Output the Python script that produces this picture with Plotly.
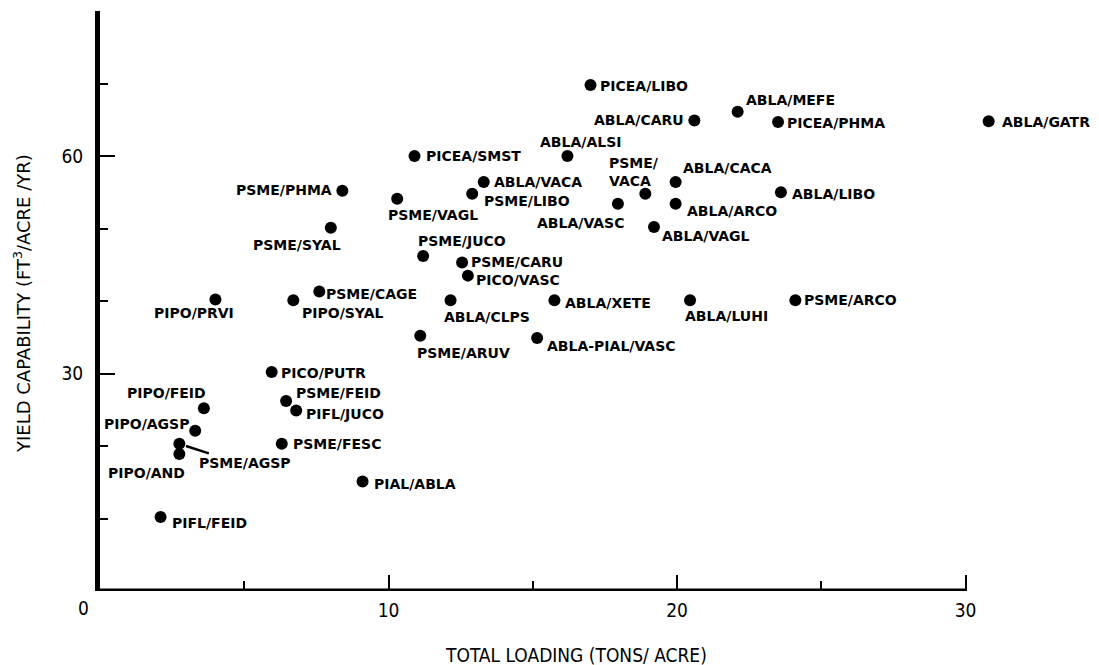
import plotly.graph_objects as go

# ---- data ----
NAMES = [
    "PICEA/LIBO", "ABLA/CARU", "ABLA/MEFE", "PICEA/PHMA", "ABLA/GATR",
    "PICEA/SMST", "ABLA/ALSI", "PSME/<br>VACA", "ABLA/CACA", "ABLA/LIBO",
    "ABLA/VACA", "PSME/LIBO", "PSME/VAGL", "ABLA/VASC", "ABLA/ARCO",
    "ABLA/VAGL", "PSME/PHMA", "PSME/SYAL", "PSME/JUCO", "PSME/CARU",
    "PICO/VASC", "PSME/CAGE", "PIPO/SYAL", "PIPO/PRVI", "ABLA/CLPS",
    "ABLA/XETE", "ABLA/LUHI", "PSME/ARCO", "PSME/ARUV", "ABLA-PIAL/VASC",
    "PICO/PUTR", "PSME/FEID", "PIFL/JUCO", "PIPO/FEID", "PIPO/AGSP",
    "PSME/AGSP", "PIPO/AND", "PSME/FESC", "PIAL/ABLA", "PIFL/FEID",
]
TOTAL_LOADING = [
    17.0, 20.6, 22.1, 23.5, 30.8,
    10.9, 16.2, 18.9, 19.95, 23.6,
    13.3, 12.9, 10.3, 17.95, 19.95,
    19.2, 8.4, 8.0, 11.2, 12.55,
    12.75, 7.6, 6.7, 4.0, 12.15,
    15.75, 20.45, 24.1, 11.1, 15.15,
    5.95, 6.45, 6.8, 3.6, 3.3,
    2.75, 2.75, 6.3, 9.1, 2.1,
]
YIELD_CAPABILITY = [
    69.8, 64.9, 66.1, 64.7, 64.8,
    60.0, 60.0, 54.8, 56.4, 55.0,
    56.4, 54.8, 54.1, 53.4, 53.4,
    50.2, 55.2, 50.1, 46.2, 45.3,
    43.5, 41.3, 40.1, 40.2, 40.1,
    40.1, 40.1, 40.1, 35.2, 34.9,
    30.2, 26.2, 24.9, 25.2, 22.1,
    20.3, 18.9, 20.3, 15.1, 10.2,
]
X_TICKS = [10, 20, 30]
X_TICK_TEXT = ["10", "20", "30"]
X_MINOR = [5, 15, 25]
Y_TICKS = [30, 60]
Y_TICK_TEXT = ["30", "60"]
Y_MINOR = [10, 20, 40, 50, 70, 80]
X_AXIS_END = 30      # drawn x-axis line stops here
X_VIEW_MAX = 34      # plot area continues so the far-right point stays visible
Y_MAX = 80

# ---- label placement (anchor side, pixel offsets) ----
LABEL_POS = [
    ("left", 9, -1), ("right", -10, 0), ("left", 8, 12), ("left", 9, -1), ("left", 13, -1),
    ("left", 11, 0), ("left", -27, 14), ("left", -36, 22), ("left", 7, 14), ("left", 11, -2),
    ("left", 10, 0), ("left", 12, -7), ("left", -9, -16), ("right", 6, -19), ("left", 11, -7),
    ("left", 8, -9), ("right", -10, 1), ("right", 10, -17), ("left", -5, 15), ("left", 9, 1),
    ("left", 8, -4), ("left", 7, -2), ("left", 9, -13), ("right", 19, -13), ("left", -7, -17),
    ("left", 11, -3), ("left", -5, -16), ("left", 9, 0), ("left", -3, -17), ("left", 10, -8),
    ("left", 9, -1), ("left", 10, 8), ("left", 10, -4), ("right", 2, 15), ("right", -6, 7),
    ("left", 20, -19), ("right", 6, -19), ("left", 11, 0), ("left", 11, -2), ("left", 11, -6),
]
POINTER_INDEX = NAMES.index("PSME/AGSP")

LABEL_FONT = dict(family="DejaVu Sans", size=14, color="black", weight="bold")
TICK_FONT = dict(family="Liberation Sans Narrow, DejaVu Sans Condensed, sans-serif", size=19, color="black")

# layout geometry (page body has an 8px margin, figure sized to fit the window)
FIG_W, FIG_H = 1091, 657
M_LEFT, M_TOP, M_BOTTOM = 92, 3, 74
PX_PER_UNIT = 866 / 30
plot_w = PX_PER_UNIT * X_VIEW_MAX
M_RIGHT = FIG_W - M_LEFT - plot_w

fig = go.Figure()
fig.add_trace(go.Scatter(
    x=TOTAL_LOADING, y=YIELD_CAPABILITY, mode="markers",
    marker=dict(size=12, color="black"),
    cliponaxis=False, hoverinfo="text", hovertext=NAMES,
))

annotations = []
for name, xv, yv, (side, dx, dy) in zip(NAMES, TOTAL_LOADING, YIELD_CAPABILITY, LABEL_POS):
    annotations.append(dict(
        x=xv, y=yv, xref="x", yref="y", text=name, showarrow=False,
        xanchor=side, yanchor="middle", xshift=dx, yshift=dy,
        font=LABEL_FONT, align="left", borderpad=0, borderwidth=0,
    ))
# pointer line for PSME/AGSP
annotations.append(dict(
    x=TOTAL_LOADING[POINTER_INDEX], y=YIELD_CAPABILITY[POINTER_INDEX], xref="x", yref="y",
    text="", showarrow=True, arrowhead=0, arrowwidth=2.5, arrowcolor="black",
    ax=31, ay=10, standoff=7,
))
# shared origin label
annotations.append(dict(
    x=0, y=0, xref="x", yref="y", text="0", showarrow=False,
    xanchor="center", yanchor="middle", xshift=-17, yshift=-17, font=TICK_FONT,
))
# axis titles
annotations.append(dict(
    x=X_AXIS_END * 0.55, y=0, xref="x", yref="paper", text="TOTAL LOADING (TONS/ ACRE)",
    showarrow=False, xanchor="center", yanchor="middle", yshift=-64, font=TICK_FONT,
))
annotations.append(dict(
    x=0, y=0.5, xref="paper", yref="paper", text="YIELD CAPABILITY (FT<sup>3</sup>/ACRE /YR)",
    showarrow=False, textangle=-90, xanchor="center", yanchor="middle",
    xshift=-78, yshift=-3, font=dict(family="DejaVu Sans", size=18, color="black"),
))

# x-axis line only up to 30, like the reference
shapes = [dict(type="line", xref="x", yref="y", x0=0, x1=X_AXIS_END, y0=0, y1=0,
               line=dict(color="black", width=5), layer="above")]

fig.update_layout(
    width=FIG_W, height=FIG_H,
    margin=dict(l=M_LEFT, r=M_RIGHT, t=M_TOP, b=M_BOTTOM, autoexpand=False),
    plot_bgcolor="white", paper_bgcolor="white",
    showlegend=False, annotations=annotations, shapes=shapes,
    xaxis=dict(
        range=[0, X_VIEW_MAX], showline=False,
        ticks="inside", ticklen=16, tickwidth=2, tickcolor="black",
        tickmode="array", tickvals=X_TICKS, ticktext=X_TICK_TEXT,
        tickfont=TICK_FONT, ticklabelstandoff=6,
        showgrid=False, zeroline=False, automargin=False,
        minor=dict(tickmode="array", tickvals=X_MINOR, ticks="inside",
                   ticklen=10, tickwidth=2, tickcolor="black", showgrid=False),
    ),
    yaxis=dict(
        range=[0, Y_MAX], showline=True, linecolor="black", linewidth=5,
        ticks="inside", ticklen=15, tickwidth=2, tickcolor="black",
        tickmode="array", tickvals=Y_TICKS, ticktext=Y_TICK_TEXT,
        tickfont=TICK_FONT, ticklabelstandoff=8,
        showgrid=False, zeroline=False, automargin=False,
        minor=dict(tickmode="array", tickvals=Y_MINOR, ticks="inside",
                   ticklen=8, tickwidth=2, tickcolor="black", showgrid=False),
    ),
)

fig.write_html("out.html")
